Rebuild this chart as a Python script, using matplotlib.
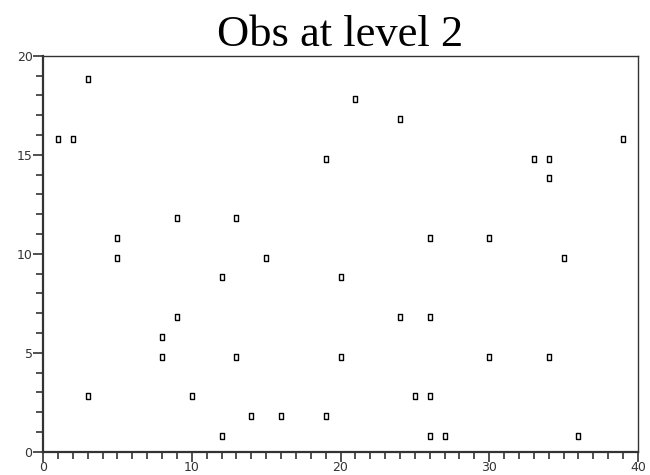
import matplotlib
matplotlib.use('Agg')
from matplotlib import pyplot as plt
from matplotlib.ticker import MultipleLocator


obs_x = [1, 2, 3, 3, 5, 5, 8, 8, 9, 9,
         10, 12, 12, 13, 13, 14, 15, 16, 19, 19,
         21, 20, 20, 24, 24, 25, 26, 26, 26, 26,
         27, 30, 30, 33, 34, 34, 34, 35, 36, 39]
obs_y = [15.8, 15.8, 18.8, 2.8, 10.8, 9.8, 5.8, 4.8, 6.8, 11.8,
         2.8, 8.8, 0.8, 11.8, 4.8, 1.8, 9.8, 1.8, 14.8, 1.8,
         17.8, 8.8, 4.8, 16.8, 6.8, 2.8, 10.8, 6.8, 2.8, 0.8,
         0.8, 10.8, 4.8, 14.8, 14.8, 13.8, 4.8, 9.8, 0.8, 15.8]

title = 'Obs at level 2'

# small upright box used as the point marker
box = [(-0.33, -0.5), (0.33, -0.5), (0.33, 0.5), (-0.33, 0.5), (-0.33, -0.5)]

fig = plt.figure(figsize=(6.5, 4.75), dpi=100)
ax = fig.add_axes([0.0662, 0.049, 0.9153, 0.8337])

ax.plot(obs_x, obs_y, linestyle='none', marker=box, markersize=4.6,
        markerfacecolor='white', markeredgecolor='black', markeredgewidth=1.0)

ax.set_xlim(0, 40)
ax.set_ylim(0, 20)
ax.xaxis.set_major_locator(MultipleLocator(10))
ax.xaxis.set_minor_locator(MultipleLocator(1))
ax.yaxis.set_major_locator(MultipleLocator(5))
ax.yaxis.set_minor_locator(MultipleLocator(1))
ax.tick_params(which='major', direction='out', length=7, width=1.2,
               color='#333333', labelsize=9, labelcolor='#333333', pad=0.5)
ax.tick_params(which='minor', direction='out', length=5, width=1.2,
               color='#333333')
ax.tick_params(axis='x', which='major', pad=0)
for s in ax.spines.values():
    s.set_linewidth(1.0)
    s.set_color('#333333')
for s in ('left', 'bottom'):
    ax.spines[s].set_linewidth(1.6)

fig.text(0.524, 1 - 46 / 475, title, ha='center', va='baseline',
         family='Liberation Serif', fontsize=32)

fig.savefig('out.png', dpi=100)
